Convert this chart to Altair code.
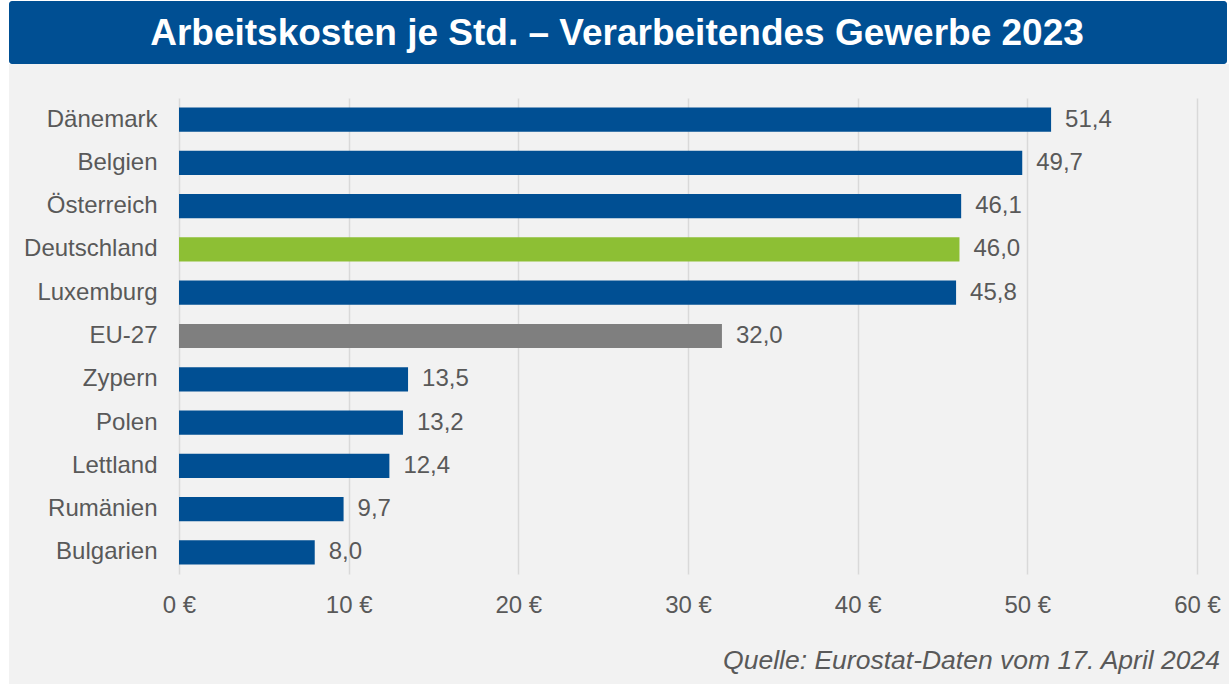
import altair as alt
import pandas as pd

countries = ["Dänemark", "Belgien", "Österreich", "Deutschland", "Luxemburg", "EU-27",
             "Zypern", "Polen", "Lettland", "Rumänien", "Bulgarien"]
values = [51.4, 49.7, 46.1, 46.0, 45.8, 32.0, 13.5, 13.2, 12.4, 9.7, 8.0]
colors = ["#004f93", "#004f93", "#004f93", "#8dbf34", "#004f93", "#7f7f7f",
          "#004f93", "#004f93", "#004f93", "#004f93", "#004f93"]
x_ticks = [0, 10, 20, 30, 40, 50, 60]
title_text = "Arbeitskosten je Std. – Verarbeitendes Gewerbe 2023"
source_text = "Quelle: Eurostat-Daten vom 17. April 2024"

df = pd.DataFrame({
    "land": countries,
    "wert": values,
    "farbe": colors,
    "label": [f"{v:.1f}".replace(".", ",") for v in values],
})

W, H = 1018, 476
PAD_L, PAD_T = 179, 98

one = pd.DataFrame({"a": [0]})

white_left = alt.Chart(one).mark_rect(color="white").encode(
    x=alt.value(0 - PAD_L), x2=alt.value(9 - PAD_L),
    y=alt.value(0 - PAD_T), y2=alt.value(684 - PAD_T))
white_top = alt.Chart(one).mark_rect(color="white").encode(
    x=alt.value(0 - PAD_L), x2=alt.value(1229 - PAD_L),
    y=alt.value(0 - PAD_T), y2=alt.value(64 - PAD_T))

banner = alt.Chart(one).mark_rect(color="#004f93", cornerRadius=3).encode(
    x=alt.value(9 - PAD_L), x2=alt.value(1227 - PAD_L),
    y=alt.value(1 - PAD_T), y2=alt.value(64 - PAD_T))

title = alt.Chart(pd.DataFrame({"t": [title_text]})).mark_text(
    font="Liberation Sans", fontWeight="bold", fontSize=37, color="white",
    align="center", baseline="middle").encode(
    x=alt.value(617 - PAD_L), y=alt.value(34 - PAD_T), text="t:N")

source = alt.Chart(pd.DataFrame({"t": [source_text]})).mark_text(
    font="Liberation Sans", fontStyle="italic", fontSize=26.5, color="#595959",
    align="right", baseline="middle").encode(
    x=alt.value(1220 - PAD_L), y=alt.value(661 - PAD_T), text="t:N")

y_enc = alt.Y("land:N", sort=countries, title=None,
              scale=alt.Scale(paddingInner=0.44, paddingOuter=0.22),
              axis=alt.Axis(labelFont="Liberation Sans", labelFontSize=24,
                            labelColor="#595959", labelPadding=22, ticks=False,
                            domain=False, grid=False))
x_enc = alt.X("wert:Q", title=None, scale=alt.Scale(domain=[0, 60], nice=False),
              axis=alt.Axis(values=x_ticks, labelExpr="datum.value + ' €'",
                            labelFont="Liberation Sans", labelFontSize=24,
                            labelColor="#595959", labelPadding=19, ticks=False,
                            labelFlush=False, labelOverlap=False,
                            domain=False, grid=True, gridColor="#d9d9d9",
                            gridWidth=1.5))

bars = alt.Chart(df).mark_bar().encode(
    x=x_enc, y=y_enc, color=alt.Color("farbe:N", scale=None))

labels = alt.Chart(df).mark_text(
    font="Liberation Sans", fontSize=24, color="#595959", align="left",
    baseline="middle", dx=14).encode(
    x=alt.X("wert:Q"), y=alt.Y("land:N", sort=countries), text="label:N")

chart = alt.layer(white_left, white_top, banner, title, source, bars, labels).properties(
    width=W, height=H,
    autosize=alt.AutoSizeParams(type="none"),
    padding={"left": PAD_L, "top": PAD_T, "right": 1229 - PAD_L - W, "bottom": 684 - PAD_T - H},
    background="#f2f2f2",
).configure_view(stroke=None)

chart.save("out.html", embed_options={"renderer": "svg", "actions": False})
